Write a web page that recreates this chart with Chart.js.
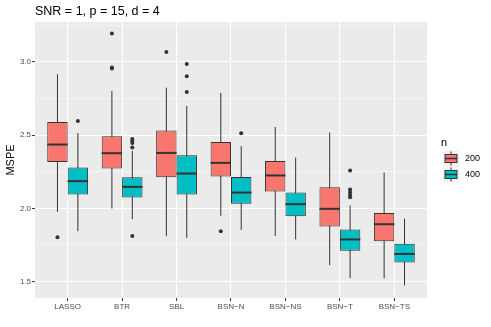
<!DOCTYPE html>
<html>
<head>
<meta charset="utf-8">
<script src="https://cdn.jsdelivr.net/npm/chart.js@4"></script>
<style>
  html, body { margin: 0; padding: 0; background: #fff; }
  #wrap { width: 491px; height: 327px; }
</style>
</head>
<body>
<div id="wrap"><canvas id="c" width="491" height="327"></canvas></div>
<script>
// data
const methods = ['LASSO', 'BTR', 'SBL', 'BSN\u2212N', 'BSN\u2212NS', 'BSN\u2212T', 'BSN\u2212TS'];
const groups = ['200', '400'];
const fills = ['#F8766D', '#00BFC4'];

const lo200  = [1.976, 1.999, 1.810, 1.949, 1.812, 1.612, 1.522];
const q1_200 = [2.317, 2.272, 2.213, 2.218, 2.115, 1.876, 1.776];
const med200 = [2.436, 2.377, 2.379, 2.311, 2.225, 1.997, 1.892];
const q3_200 = [2.590, 2.493, 2.532, 2.454, 2.324, 2.145, 1.969];
const hi200  = [2.916, 2.802, 2.825, 2.788, 2.556, 2.518, 2.245];
const out200 = [[1.803], [3.194, 2.962, 2.955], [3.068], [1.844], [], [], []];

const lo400  = [1.844, 1.926, 1.799, 1.853, 1.788, 1.524, 1.474];
const q1_400 = [2.095, 2.074, 2.095, 2.031, 1.947, 1.710, 1.631];
const med400 = [2.186, 2.147, 2.238, 2.108, 2.029, 1.788, 1.689];
const q3_400 = [2.279, 2.213, 2.363, 2.215, 2.108, 1.856, 1.758];
const hi400  = [2.515, 2.392, 2.700, 2.425, 2.347, 2.020, 1.931];
const out400 = [[2.597], [2.474, 2.461, 2.447, 2.416, 1.812], [2.986, 2.902, 2.795], [2.513], [],
                [2.259, 2.129, 2.111, 2.092, 2.076], []];

const yMajor = [1.5, 2.0, 2.5, 3.0];
const yMinor = [1.75, 2.25, 2.75, 3.25];

const stats = [
    { lo: lo200, med: med200, hi: hi200 },
    { lo: lo400, med: med400, hi: hi400 },
];
const DODGE = 0.1875;
const FONT = "'Liberation Sans', Arial, sans-serif";

const boxData = (q1, q3) => methods.map((_, i) => ({ x: i + 1, y: [q1[i], q3[i]] }));
const outData = (outs, dx) => outs.flatMap((vals, i) => vals.map(v => ({ x: i + 1 + dx, y: v })));

// whiskers behind the boxes, medians on top, plus panel / title / legend
const boxPlot = {
    id: 'boxPlot',
    beforeDraw(chart) {
        const { ctx, chartArea: a } = chart;
        ctx.save();
        ctx.fillStyle = '#EBEBEB';
        ctx.fillRect(a.left, a.top, a.right - a.left, a.bottom - a.top);
        ctx.restore();
    },
    beforeDatasetsDraw(chart) {
        const { ctx, scales: { y } } = chart;
        ctx.save();
        ctx.strokeStyle = '#333333';
        ctx.lineWidth = 1;
        stats.forEach((s, d) => {
            chart.getDatasetMeta(d).data.forEach((bar, i) => {
                ctx.beginPath();
                ctx.moveTo(bar.x, y.getPixelForValue(s.lo[i]));
                ctx.lineTo(bar.x, y.getPixelForValue(s.hi[i]));
                ctx.stroke();
            });
        });
        ctx.restore();
    },
    afterDatasetsDraw(chart) {
        const { ctx, scales: { y } } = chart;
        ctx.save();
        ctx.strokeStyle = '#333333';
        ctx.lineWidth = 2;
        stats.forEach((s, d) => {
            chart.getDatasetMeta(d).data.forEach((bar, i) => {
                const py = y.getPixelForValue(s.med[i]);
                ctx.beginPath();
                ctx.moveTo(bar.x - bar.width / 2, py);
                ctx.lineTo(bar.x + bar.width / 2, py);
                ctx.stroke();
            });
        });
        ctx.restore();
    },
    afterDraw(chart) {
        const { ctx } = chart;
        ctx.save();
        // title
        ctx.fillStyle = '#000';
        ctx.textBaseline = 'alphabetic';
        ctx.font = `12.5px ${FONT}`;
        ctx.fillText('SNR = 1, p = 15, d = 4', 35, 15);
        // legend
        ctx.font = `11px ${FONT}`;
        ctx.fillText('n', 441, 146);
        groups.forEach((g, k) => {
            const top = 150.5 + k * 16;
            ctx.fillStyle = '#F2F2F2';
            ctx.fillRect(443, top, 16, 16);
            ctx.strokeStyle = '#333333';
            ctx.lineWidth = 1;
            ctx.beginPath();
            ctx.moveTo(451, top + 1);
            ctx.lineTo(451, top + 15);
            ctx.stroke();
            ctx.fillStyle = fills[k];
            ctx.fillRect(445, top + 4, 12, 8);
            ctx.strokeRect(445, top + 4, 12, 8);
            ctx.lineWidth = 1.5;
            ctx.beginPath();
            ctx.moveTo(445, top + 8);
            ctx.lineTo(457, top + 8);
            ctx.stroke();
            ctx.fillStyle = '#000';
            ctx.font = `9px ${FONT}`;
            ctx.textBaseline = 'middle';
            ctx.fillText(g, 465, top + 8.5);
            ctx.textBaseline = 'alphabetic';
        });
        ctx.restore();
    }
};

new Chart(document.getElementById('c'), {
    type: 'bar',
    data: {
        datasets: [
            { label: groups[0], data: boxData(q1_200, q3_200), backgroundColor: fills[0], borderColor: '#333333', borderWidth: 1, borderSkipped: false },
            { label: groups[1], data: boxData(q1_400, q3_400), backgroundColor: fills[1], borderColor: '#333333', borderWidth: 1, borderSkipped: false },
            { type: 'scatter', data: outData(out200, -DODGE), backgroundColor: '#333333', borderWidth: 0, pointRadius: 2 },
            { type: 'scatter', data: outData(out400, DODGE), backgroundColor: '#333333', borderWidth: 0, pointRadius: 2 },
        ],
    },
    options: {
        responsive: false,
        animation: false,
        layout: { padding: { top: 22, right: 64, left: 0, bottom: 0 } },
        datasets: { bar: { categoryPercentage: 0.75, barPercentage: 1 } },
        plugins: { legend: { display: false }, tooltip: { enabled: false }, title: { display: false } },
        scales: {
            x: {
                type: 'linear', min: 0.4, max: 7.6, offset: false,
                afterBuildTicks: ax => { ax.ticks = methods.map((_, i) => ({ value: i + 1 })); },
                afterFit: ax => { ax.height = 29; },
                grid: { offset: false, color: '#FFFFFF', lineWidth: 1.1, tickColor: '#333333', tickLength: 3, tickWidth: 1 },
                border: { display: false },
                ticks: { autoSkip: false, maxRotation: 0, padding: 1, color: '#4D4D4D', font: { family: FONT, size: 8 },
                         callback: v => methods[v - 1] },
            },
            y: {
                min: 1.388, max: 3.273,
                afterBuildTicks: ax => { ax.ticks = [...yMajor, ...yMinor].sort((a, b) => a - b).map(v => ({ value: v })); },
                afterFit: ax => { ax.width = 35; },
                grid: {
                    color: '#FFFFFF',
                    lineWidth: c => yMajor.includes(c.tick.value) ? 1.1 : 0.5,
                    tickColor: c => yMajor.includes(c.tick.value) ? '#333333' : 'rgba(0,0,0,0)',
                    tickLength: 3, tickWidth: 1,
                },
                border: { display: false },
                ticks: { padding: 1, color: '#4D4D4D', font: { family: FONT, size: 8 },
                         callback: v => yMajor.includes(v) ? v.toFixed(1) : '' },
                title: { display: true, text: 'MSPE', color: '#000', font: { family: FONT, size: 11 }, padding: { top: 4, bottom: 4 } },
            },
        },
    },
    plugins: [boxPlot],
});
</script>
</body>
</html>
